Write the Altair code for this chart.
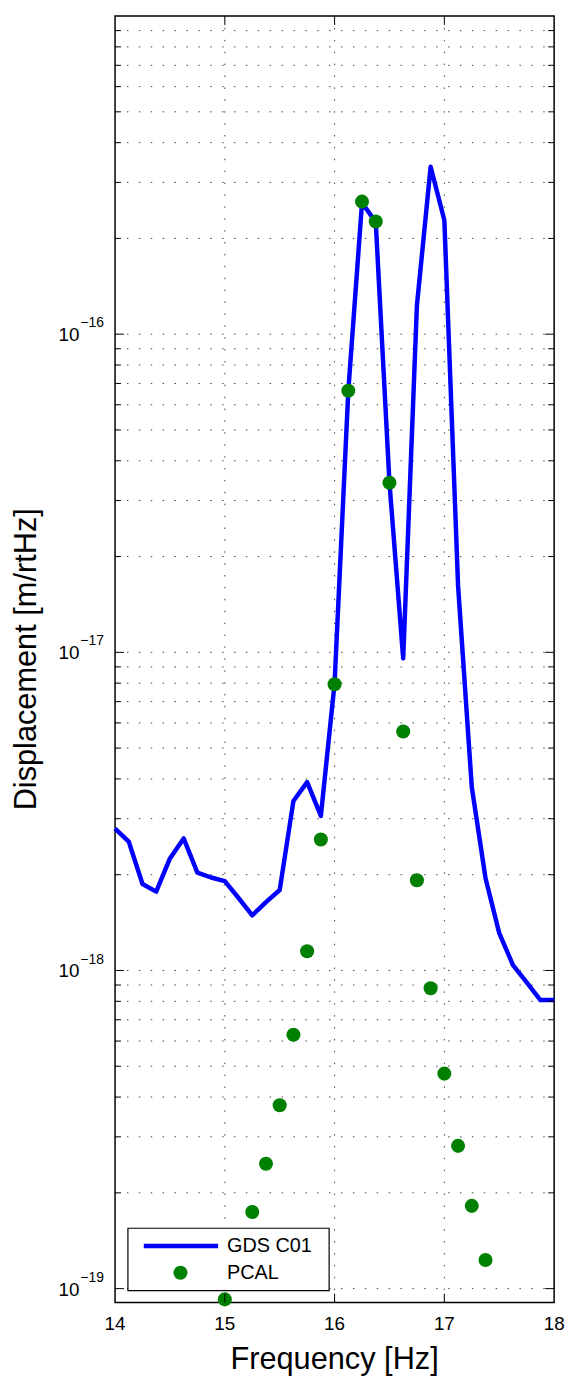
import altair as alt
import pandas as pd

FONT = "Liberation Sans"

# ---- data ----
gds_freq = [14.0, 14.125, 14.25, 14.375, 14.5, 14.625, 14.75, 14.875,
            15.0, 15.125, 15.25, 15.375, 15.5, 15.625, 15.75, 15.875,
            16.0, 16.125, 16.25, 16.375, 16.5, 16.625, 16.75, 16.875,
            17.0, 17.125, 17.25, 17.375, 17.5, 17.625, 17.75, 17.875, 18.0]
gds_disp = [2.79e-18, 2.54e-18, 1.87e-18, 1.77e-18, 2.25e-18, 2.60e-18, 2.03e-18, 1.96e-18,
            1.91e-18, 1.69e-18, 1.49e-18, 1.64e-18, 1.79e-18, 3.41e-18, 3.91e-18, 3.06e-18,
            8.0e-18, 6.64e-17, 2.59e-16, 2.25e-16, 3.41e-17, 9.57e-18, 1.23e-16, 3.36e-16,
            2.28e-16, 1.62e-17, 3.77e-18, 1.95e-18, 1.31e-18, 1.04e-18, 9.18e-19, 8.07e-19, 8.07e-19]

pcal_freq = [15.0, 15.25, 15.375, 15.5, 15.625, 15.75, 15.875, 16.0, 16.125, 16.25,
             16.375, 16.5, 16.625, 16.75, 16.875, 17.0, 17.125, 17.25, 17.375]
pcal_disp = [9.25e-20, 1.74e-19, 2.47e-19, 3.77e-19, 6.28e-19, 1.15e-18, 2.58e-18, 7.94e-18,
             6.64e-17, 2.61e-16, 2.26e-16, 3.41e-17, 5.64e-18, 1.92e-18, 8.79e-19, 4.74e-19,
             2.81e-19, 1.82e-19, 1.23e-19]

x_ticks = [14, 15, 16, 17, 18]
x_inner_ticks = [15, 16, 17]
y_decades = [-19, -18, -17, -16]
series_names = ["GDS C01", "PCAL"]
x_title = "Frequency [Hz]"
y_title = "Displacement [m/rtHz]"

Y_MIN, Y_MAX = 9.04e-20, 1e-15
y_major = [10.0 ** d for d in y_decades]
y_minor = [m * 10.0 ** k for k in range(-20, -15) for m in range(2, 10)
           if Y_MIN <= m * 10.0 ** k <= Y_MAX]

W, H = 443, 1298

gds_df = pd.DataFrame({"freq": gds_freq, "disp": gds_disp})
pcal_df = pd.DataFrame({"freq": pcal_freq, "disp": pcal_disp})
major_df = pd.DataFrame({"v": y_major, "exp": ["\u2212" + str(-d) for d in y_decades]})
minor_df = pd.DataFrame({"v": y_minor})
ygrid_df = pd.DataFrame({"v": y_major + y_minor})
xt_df = pd.DataFrame({"f": x_inner_ticks})
xl_df = pd.DataFrame({"f": x_ticks, "lab": [str(t) for t in x_ticks]})
one = pd.DataFrame({"a": [0]})

xs = alt.Scale(domain=[14, 18], nice=False, zero=False)
ys = alt.Scale(type="log", domain=[Y_MIN, Y_MAX], nice=False)

def X(field):
    return alt.X(field, scale=xs, axis=None)

def Y(field):
    return alt.Y(field, scale=ys, axis=None)

DOT = dict(strokeDash=[1.5, 10.5], color="#444", strokeWidth=1)

ygrid = alt.Chart(ygrid_df).mark_rule(**DOT).encode(
    y=Y("v:Q"), x=alt.value(0), x2=alt.value(W))
xgrid = alt.Chart(xt_df).mark_rule(**DOT).encode(
    x=X("f:Q"), y=alt.value(0), y2=alt.value(H))

line = alt.Chart(gds_df).mark_line(color="#0000ff", strokeWidth=4.5, strokeJoin="round").encode(
    x=X("freq:Q"), y=Y("disp:Q"))

points = alt.Chart(pcal_df).mark_circle(size=201, color="#008000", opacity=1).encode(
    x=X("freq:Q"), y=Y("disp:Q"))

def ytick(df, x0, x1):
    return alt.Chart(df).mark_rule(color="black", strokeWidth=1).encode(
        y=Y("v:Q"), x=alt.value(x0), x2=alt.value(x1))

def xtick(y0, y1):
    return alt.Chart(xt_df).mark_rule(color="black", strokeWidth=1).encode(
        x=X("f:Q"), y=alt.value(y0), y2=alt.value(y1))

ticks = [ytick(major_df, 0, 9), ytick(major_df, W, W - 9),
         ytick(minor_df, 0, 6), ytick(minor_df, W, W - 6),
         xtick(H, H - 9), xtick(0, 9)]

lab10 = alt.Chart(major_df).mark_text(align="right", baseline="middle", fontSize=19,
                                      font=FONT, color="black", dy=1).encode(
    y=Y("v:Q"), x=alt.value(-36), text=alt.value("10"))
labexp = alt.Chart(major_df).mark_text(align="left", baseline="middle", fontSize=14,
                                       font=FONT, color="black", dy=-11).encode(
    y=Y("v:Q"), x=alt.value(-35), text="exp:N")
xlab = alt.Chart(xl_df).mark_text(align="center", baseline="top", fontSize=19,
                                  font=FONT, color="black").encode(
    x=X("f:Q"), y=alt.value(H + 13), text="lab:N")

xtitle = alt.Chart(one).mark_text(align="center", baseline="alphabetic", fontSize=31,
                                  font=FONT, color="black").encode(
    x=alt.value(W / 2), y=alt.value(H + 67), text=alt.value(x_title))
ytitle = alt.Chart(one).mark_text(align="center", baseline="alphabetic", fontSize=31,
                                  font=FONT, color="black", angle=270).encode(
    x=alt.value(-80), y=alt.value(H / 2), text=alt.value(y_title))

# legend
leg_box = alt.Chart(one).mark_rect(fill="white", stroke="black", strokeWidth=1.2).encode(
    x=alt.value(13), x2=alt.value(216), y=alt.value(1223), y2=alt.value(1286))
leg_line = alt.Chart(one).mark_rule(color="#0000ff", strokeWidth=4.5).encode(
    x=alt.value(29), x2=alt.value(104), y=alt.value(1241))
leg_pt = alt.Chart(one).mark_circle(size=201, color="#008000", opacity=1).encode(
    x=alt.value(66), y=alt.value(1268))
leg_t1 = alt.Chart(one).mark_text(align="left", baseline="middle", fontSize=20, font=FONT,
                                  color="black").encode(
    x=alt.value(113), y=alt.value(1241), text=alt.value(series_names[0]))
leg_t2 = alt.Chart(one).mark_text(align="left", baseline="middle", fontSize=20, font=FONT,
                                  color="black").encode(
    x=alt.value(113), y=alt.value(1268), text=alt.value(series_names[1]))

chart = alt.layer(
    ygrid, xgrid, line, points, *ticks, lab10, labexp, xlab, xtitle, ytitle,
    leg_box, leg_line, leg_pt, leg_t1, leg_t2
).properties(
    width=W, height=H,
    padding={"left": 108, "top": 2, "right": 14, "bottom": 70},
    autosize=alt.AutoSizeParams(type="none"),
    background="white",
).configure_view(stroke="black", strokeWidth=1.5)

chart.save("out.html", embed_options={"renderer": "svg", "actions": False})
